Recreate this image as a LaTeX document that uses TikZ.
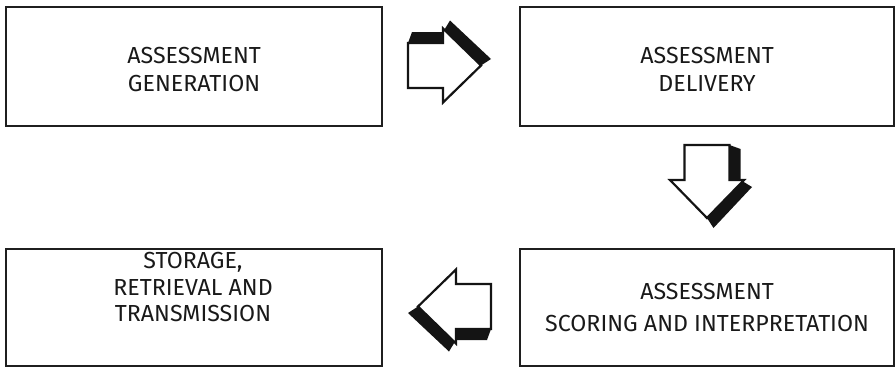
\documentclass[tikz,border=0pt]{standalone}
\usepackage{fontspec}
\setmainfont{Fira Sans}
\begin{document}
\begin{tikzpicture}[x=1pt,y=1pt,
  box/.style={draw=black!88, line width=2.2pt},
  lbl/.style={align=center, font=\fontsize{23.2}{28}\selectfont, text=black!90},
  fatarrow/.pic={
    \fill[black!92, line join=miter] (0,22.5) -- (4,33.5) -- (35,33.5) -- (42,45) -- (83,6.5) -- (73,0) -- (35,37) -- (35,22.5) -- cycle;
    \filldraw[fill=white, draw=black!92, line width=2.2pt, line join=miter] (0,22.5) -- (35,22.5) -- (35,37) -- (73,0) -- (35,-37) -- (35,-22.5) -- (0,-22.5) -- cycle;
  }]
\useasboundingbox (0,0) rectangle (895,-367);
% boxes
\node[box, minimum width=376pt, minimum height=119pt, inner sep=0pt, anchor=north west] (gen) at (5,-6) {};
\node[box, minimum width=374pt, minimum height=119pt, inner sep=0pt, anchor=north west] (del) at (519,-6) {};
\node[box, minimum width=376pt, minimum height=117pt, inner sep=0pt, anchor=north west] (sto) at (5,-248) {};
\node[box, minimum width=374pt, minimum height=117pt, inner sep=0pt, anchor=north west] (sco) at (519,-248) {};
% labels
\node[lbl] (tgen) at (gen.center) [yshift=-3pt] {ASSESSMENT\\GENERATION};
\node[lbl] (tdel) at (del.center) [yshift=-3pt] {ASSESSMENT\\DELIVERY};
\node[lbl, font=\fontsize{23.2}{26.5}\selectfont] (tsto) at (193,-287.5) {STORAGE,\\RETRIEVAL AND\\TRANSMISSION};
\node[lbl, font=\fontsize{23.2}{31.5}\selectfont] (tsco) at (sco.center) {ASSESSMENT\\SCORING AND INTERPRETATION};
% arrows
\pic at (408,-65.5) {fatarrow};
\pic[rotate=-90] at (707,-145) {fatarrow};
\pic[rotate=180] at (491,-306.5) {fatarrow};
\end{tikzpicture}
\end{document}
